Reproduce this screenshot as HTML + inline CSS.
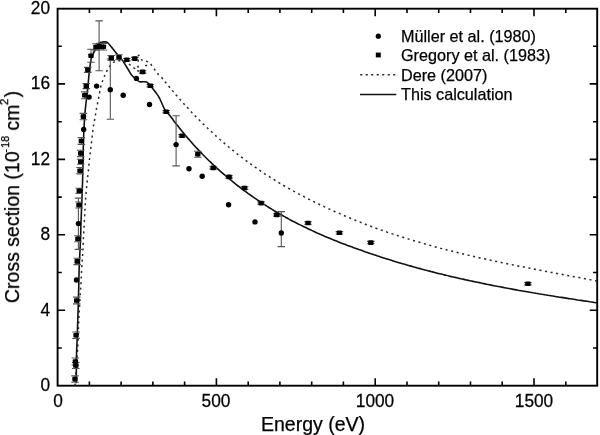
<!DOCTYPE html>
<html><head><meta charset="utf-8"><style>
html,body{margin:0;padding:0;background:#fff;}
body{width:600px;height:435px;overflow:hidden;position:relative;-webkit-font-smoothing:antialiased;font-family:"Liberation Sans",sans-serif;color:#000;}
svg{position:absolute;left:0;top:0;}
.t{position:absolute;white-space:nowrap;line-height:1;will-change:transform;-webkit-text-stroke:0.25px #000;}
.yl{text-align:right;width:40px;font-size:17.3px;transform:scaleY(1.08);}
.xl{font-size:17.3px;text-align:center;width:60px;transform:scaleY(1.08);}
.lg{font-size:16.2px;left:400.8px;}
.ax{font-size:19.5px;}
.sp{font-size:10.8px;position:relative;top:-10.6px;}
</style></head><body>
<svg width="600" height="435" viewBox="0 0 600 435">
<rect x="57.6" y="8.7" width="539.6" height="377" fill="none" stroke="#000" stroke-width="1.9"/>
<path d="M89.4,385.7v-4.2 M89.4,8.7v4.2 M121.1,385.7v-4.2 M121.1,8.7v4.2 M152.9,385.7v-4.2 M152.9,8.7v4.2 M184.6,385.7v-4.2 M184.6,8.7v4.2 M216.4,385.7v-7.5 M216.4,8.7v7.5 M248.2,385.7v-4.2 M248.2,8.7v4.2 M279.9,385.7v-4.2 M279.9,8.7v4.2 M311.7,385.7v-4.2 M311.7,8.7v4.2 M343.4,385.7v-4.2 M343.4,8.7v4.2 M375.2,385.7v-7.5 M375.2,8.7v7.5 M407,385.7v-4.2 M407,8.7v4.2 M438.7,385.7v-4.2 M438.7,8.7v4.2 M470.5,385.7v-4.2 M470.5,8.7v4.2 M502.2,385.7v-4.2 M502.2,8.7v4.2 M534,385.7v-7.5 M534,8.7v7.5 M565.8,385.7v-4.2 M565.8,8.7v4.2 M57.6,348h4.2 M597.2,348h-4.2 M57.6,310.3h7.5 M597.2,310.3h-7.5 M57.6,272.5h4.2 M597.2,272.5h-4.2 M57.6,234.8h7.5 M597.2,234.8h-7.5 M57.6,197.1h4.2 M597.2,197.1h-4.2 M57.6,159.4h7.5 M597.2,159.4h-7.5 M57.6,121.7h4.2 M597.2,121.7h-4.2 M57.6,83.9h7.5 M597.2,83.9h-7.5 M57.6,46.2h4.2 M597.2,46.2h-4.2" stroke="#000" stroke-width="1.6" fill="none"/>
<path d="M75,385.7 C75.2,383.4 75.7,376.3 76,372 C76.3,367.7 76.6,363.3 76.8,360 C77,356.7 77.2,354.8 77.4,352 C77.6,349.2 77.8,347.2 78,343 C78.2,338.8 78.3,331.5 78.5,327 C78.7,322.5 78.8,319.7 79,316 C79.2,312.3 79.4,309.1 79.6,305 C79.8,300.9 80.2,295.3 80.4,291.4 C80.7,287.5 80.9,284.9 81.1,281.7 C81.3,278.5 81.3,275.4 81.5,272 C81.7,268.6 82,264.4 82.2,261 C82.4,257.6 82.7,254.9 82.9,251.4 C83.1,247.9 83.1,244.4 83.3,240.2 C83.5,236 83.8,231 84.1,226.4 C84.3,221.8 84.6,217 84.8,212.6 C85,208.2 85.2,205 85.5,200.2 C85.8,195.4 86.4,188.8 86.9,184 C87.4,179.2 87.8,175.8 88.3,171.4 C88.8,167 89.2,161.7 89.7,157.6 C90.2,153.5 90.5,150.5 91,146.6 C91.5,142.7 92,137.8 92.4,134.1 C92.9,130.3 93.3,126.7 93.7,124.1 C94.1,121.5 94.6,120.2 94.9,118.3 C95.2,116.4 95.5,114.3 95.8,112.6 C96.1,110.9 96.3,109.7 96.6,108 C96.9,106.3 97.4,104.1 97.8,102.2 C98.2,100.3 98.4,99 98.9,96.5 C99.4,94 99.9,90.1 100.6,87.3 C101.3,84.5 102.2,81.7 103,79.5 C103.8,77.3 104.4,76.1 105.3,74.3 C106.2,72.5 107,70.4 108.2,68.6 C109.4,66.8 110.9,64.6 112.2,63.4 C113.5,62.2 114.7,61.6 116,61.2 C117.3,60.8 118.6,60.7 120,60.8 C121.4,60.9 123.1,61.3 124.5,61.8 C125.9,62.3 127,62.7 128.5,63.7 C130,64.7 132.2,67 133.7,67.8 C135.2,68.6 136.8,69.8 137.6,68.5 C138.3,67.2 138,62.2 138.2,60 C138.4,57.8 138,55.2 138.7,55.3 C139.4,55.4 141,59.4 142.3,60.4 C143.7,61.4 145.5,60.9 146.8,61.4 C148.1,61.9 148.9,62.2 150.1,63.4 C151.3,64.6 152.6,66.8 153.8,68.5 C155.1,70.2 156.2,71.9 157.6,73.5 C159,75.1 160.8,76.6 162.1,78 C163.3,79.4 164.1,80.5 165.1,81.8 C166.1,83 167.1,84.2 168.1,85.4 C169.1,86.7 170.1,87.9 171.1,89.1 C172.1,90.3 173.1,91.5 174.1,92.6 C175.1,93.8 176.1,95 177.1,96.1 C178.1,97.3 179.1,98.4 180.1,99.6 C181.1,100.7 182.1,101.8 183.1,102.9 C184.1,104 185.1,105.1 186.1,106.2 C187.1,107.3 188.1,108.4 189.1,109.5 C190.1,110.6 191.1,111.6 192.1,112.7 C193.1,113.7 194.1,114.8 195.1,115.8 C196.1,116.8 197.1,117.8 198.1,118.9 C199.1,119.9 200.1,120.9 201.1,121.9 C202.1,122.9 203.1,123.8 204.1,124.8 C205.1,125.8 206.1,126.8 207.1,127.7 C208.1,128.7 209.1,129.6 210.1,130.6 C211.1,131.5 212.1,132.4 213.1,133.3 C214.1,134.3 215.1,135.2 216.1,136.1 C217.1,137 218.1,137.9 219.1,138.8 C220.1,139.6 221.1,140.5 222.1,141.4 C223.1,142.2 224.1,143.1 225.1,144 C226.1,144.8 227.1,145.7 228.1,146.5 C229.1,147.3 230.1,148.2 231.1,149 C232.1,149.8 233.1,150.6 234.1,151.4 C235.1,152.2 236.1,153 237.1,153.8 C238.1,154.6 239.1,155.4 240.1,156.1 C241.1,156.9 242.1,157.7 243.1,158.4 C244.1,159.2 245.1,159.9 246.1,160.7 C247.1,161.4 248.1,162.1 249.1,162.9 C250.1,163.6 251.1,164.3 252.1,165 C253.1,165.8 254.1,166.5 255.1,167.2 C256.1,167.9 257.1,168.6 258.1,169.2 C259.1,169.9 260.1,170.6 261.1,171.3 C262.1,172 263.1,172.6 264.1,173.3 C265.1,174 266.1,174.6 267.1,175.3 C268.1,175.9 269.1,176.6 270.1,177.2 C271.1,177.8 272.1,178.5 273.1,179.1 C274.1,179.7 275.1,180.3 276.1,180.9 C277.1,181.6 278.1,182.2 279.1,182.8 C280.1,183.4 281.1,184 282.1,184.6 C283.1,185.1 284.1,185.7 285.1,186.3 C286.1,186.9 287.1,187.5 288.1,188 C289.1,188.6 290.1,189.2 291.1,189.7 C292.1,190.3 293.1,190.9 294.1,191.4 C295.1,192 296.1,192.5 297.1,193 C298.1,193.6 299.1,194.1 300.1,194.7 C301.1,195.2 302.1,195.7 303.1,196.2 C304.1,196.8 305.1,197.3 306.1,197.8 C307.1,198.3 308.1,198.8 309.1,199.3 C310.1,199.8 311.1,200.3 312.1,200.8 C313.1,201.3 314.1,201.8 315.1,202.3 C316.1,202.8 317.1,203.3 318.1,203.8 C319.1,204.3 320.1,204.7 321.1,205.2 C322.1,205.7 323.1,206.2 324.1,206.6 C325.1,207.1 326.1,207.6 327.1,208 C328.1,208.5 329.1,209 330.1,209.4 C331.1,209.9 332.1,210.3 333.1,210.8 C334.1,211.2 335.1,211.7 336.1,212.1 C337.1,212.6 338.1,213 339.1,213.4 C340.1,213.9 341.1,214.3 342.1,214.7 C343.1,215.2 344.1,215.6 345.1,216 C346.1,216.4 347.1,216.9 348.1,217.3 C349.1,217.7 350.1,218.1 351.1,218.5 C352.1,218.9 353.1,219.3 354.1,219.8 C355.1,220.2 356.1,220.6 357.1,221 C358.1,221.4 359.1,221.8 360.1,222.1 C361.1,222.5 362.1,222.9 363.1,223.3 C364.1,223.7 365.1,224.1 366.1,224.5 C367.1,224.9 368.1,225.2 369.1,225.6 C370.1,226 371.1,226.4 372.1,226.7 C373.1,227.1 374.1,227.5 375.1,227.8 C376.1,228.2 377.1,228.6 378.1,228.9 C379.1,229.3 380.1,229.6 381.1,230 C382.1,230.3 383.1,230.7 384.1,231 C385.1,231.4 386.1,231.7 387.1,232.1 C388.1,232.4 389.1,232.8 390.1,233.1 C391.1,233.4 392.1,233.8 393.1,234.1 C394.1,234.4 395.1,234.8 396.1,235.1 C397.1,235.4 398.1,235.8 399.1,236.1 C400.1,236.4 401.1,236.7 402.1,237 C403.1,237.4 404.1,237.7 405.1,238 C406.1,238.3 407.1,238.6 408.1,238.9 C409.1,239.2 410.1,239.6 411.1,239.9 C412.1,240.2 413.1,240.5 414.1,240.8 C415.1,241.1 416.1,241.4 417.1,241.7 C418.1,242 419.1,242.3 420.1,242.5 C421.1,242.8 422.1,243.1 423.1,243.4 C424.1,243.7 425.1,244 426.1,244.3 C427.1,244.6 428.1,244.8 429.1,245.1 C430.1,245.4 431.1,245.7 432.1,246 C433.1,246.2 434.1,246.5 435.1,246.8 C436.1,247.1 437.1,247.3 438.1,247.6 C439.1,247.9 440.1,248.1 441.1,248.4 C442.1,248.7 443.1,248.9 444.1,249.2 C445.1,249.4 446.1,249.7 447.1,250 C448.1,250.2 449.1,250.5 450.1,250.7 C451.1,251 452.1,251.2 453.1,251.5 C454.1,251.7 455.1,252 456.1,252.2 C457.1,252.5 458.1,252.7 459.1,253 C460.1,253.2 461.1,253.5 462.1,253.7 C463.1,253.9 464.1,254.2 465.1,254.4 C466.1,254.7 467.1,254.9 468.1,255.1 C469.1,255.4 470.1,255.6 471.1,255.8 C472.1,256.1 473.1,256.3 474.1,256.5 C475.1,256.8 476.1,257 477.1,257.2 C478.1,257.5 479.1,257.7 480.1,257.9 C481.1,258.1 482.1,258.4 483.1,258.6 C484.1,258.8 485.1,259 486.1,259.2 C487.1,259.5 488.1,259.7 489.1,259.9 C490.1,260.1 491.1,260.3 492.1,260.6 C493.1,260.8 494.1,261 495.1,261.2 C496.1,261.4 497.1,261.6 498.1,261.8 C499.1,262 500.1,262.3 501.1,262.5 C502.1,262.7 503.1,262.9 504.1,263.1 C505.1,263.3 506.1,263.5 507.1,263.7 C508.1,263.9 509.1,264.1 510.1,264.3 C511.1,264.5 512.1,264.7 513.1,264.9 C514.1,265.1 515.1,265.3 516.1,265.5 C517.1,265.8 518.1,266 519.1,266.2 C520.1,266.4 521.1,266.6 522.1,266.7 C523.1,266.9 524.1,267.1 525.1,267.3 C526.1,267.5 527.1,267.7 528.1,267.9 C529.1,268.1 530.1,268.3 531.1,268.5 C532.1,268.7 533.1,268.9 534.1,269.1 C535.1,269.3 536.1,269.5 537.1,269.7 C538.1,269.9 539.1,270.1 540.1,270.3 C541.1,270.5 542.1,270.6 543.1,270.8 C544.1,271 545.1,271.2 546.1,271.4 C547.1,271.6 548.1,271.8 549.1,272 C550.1,272.2 551.1,272.4 552.1,272.5 C553.1,272.7 554.1,272.9 555.1,273.1 C556.1,273.3 557.1,273.5 558.1,273.7 C559.1,273.9 560.1,274.1 561.1,274.2 C562.1,274.4 563.1,274.6 564.1,274.8 C565.1,275 566.1,275.2 567.1,275.4 C568.1,275.6 569.1,275.8 570.1,275.9 C571.1,276.1 572.1,276.3 573.1,276.5 C574.1,276.7 575.1,276.9 576.1,277.1 C577.1,277.3 578.1,277.4 579.1,277.6 C580.1,277.8 581.1,278 582.1,278.2 C583.1,278.4 584.1,278.6 585.1,278.8 C586.1,279 587.1,279.1 588.1,279.3 C589.1,279.5 590.1,279.7 591.1,279.9 C592.1,280.1 593.1,280.3 594.1,280.5 C595.1,280.7 596.6,281 597.1,281.1 C597.6,281.2 597.2,281.1 597.2,281.1" stroke="#2a2a2a" stroke-width="1.5" fill="none" stroke-dasharray="2.1 3.55" />
<path d="M76.3,383.2 C76.3,382.3 76.3,379.9 76.3,378 C76.3,376.1 76.3,375.8 76.3,372 C76.3,368.2 76.4,360.3 76.5,355 C76.6,349.7 76.9,345 77.1,340 C77.3,335 77.4,330 77.6,325 C77.8,320 78,314.2 78.1,310 C78.2,305.8 78.3,304.2 78.4,300 C78.5,295.8 78.7,290.5 78.8,285 C78.9,279.5 79,272.8 79.2,267 C79.4,261.2 79.8,254.5 80,250 C80.2,245.5 80.3,244.2 80.5,240 C80.7,235.8 80.8,229.7 80.9,225 C81.1,220.3 81.2,217 81.4,212 C81.6,207 81.9,200.3 82.1,195 C82.3,189.7 82.4,185.8 82.6,180 C82.8,174.2 82.9,166.7 83.1,160 C83.2,153.3 83.3,145.3 83.5,140 C83.7,134.7 83.8,132.3 84,128 C84.2,123.7 84.6,118.2 84.9,114 C85.2,109.8 85.6,106.5 86,103 C86.4,99.5 86.8,96.5 87.2,93 C87.6,89.5 87.9,85.8 88.3,82 C88.7,78.2 89,73.7 89.5,70 C90,66.3 90.4,62.7 91,60 C91.6,57.3 92.2,55.8 93,54 C93.8,52.2 94.8,50.7 95.5,49.2 C96.2,47.7 96.9,46.2 97.5,45.2 C98.1,44.2 98.5,43.5 99.3,43 C100,42.5 101.1,42.4 102,42.2 C102.9,42 103.6,41.8 104.5,41.9 C105.4,42 106.6,42.1 107.5,42.7 C108.4,43.3 109.1,44.2 110,45.3 C110.9,46.3 111.8,47.6 113,49 C114.2,50.4 115.7,52.4 116.9,53.8 C118.1,55.2 119,56.2 120,57.5 C121,58.8 121.8,59.5 123.1,61.4 C124.4,63.3 126.4,66.6 127.9,69 C129.4,71.4 130.6,73.9 132,75.6 C133.4,77.3 134.9,78.3 136.2,79.3 C137.5,80.3 138,81.3 139.7,81.8 C141.4,82.2 144.7,81.2 146.6,82 C148.5,82.8 149.5,84.8 151,86.5 C152.5,88.2 154.1,90 155.5,92 C156.9,94 158.1,95.5 159.7,98.5 C161.2,101.5 163.1,106.8 164.8,109.7 C166.5,112.6 168.6,114 170,115.7 C171.4,117.4 172,118.4 173,119.7 C174,121.1 175,122.4 176,123.7 C177,125 178,126.2 179,127.5 C180,128.8 181,130 182,131.2 C183,132.4 184,133.7 185,134.9 C186,136 187,137.2 188,138.4 C189,139.5 190,140.7 191,141.8 C192,143 193,144.1 194,145.2 C195,146.3 196,147.4 197,148.4 C198,149.5 199,150.6 200,151.6 C201,152.7 202,153.7 203,154.7 C204,155.7 205,156.8 206,157.7 C207,158.7 208,159.7 209,160.7 C210,161.7 211,162.6 212,163.6 C213,164.5 214,165.5 215,166.4 C216,167.3 217,168.2 218,169.1 C219,170 220,170.9 221,171.8 C222,172.7 223,173.5 224,174.4 C225,175.3 226,176.1 227,177 C228,177.8 229,178.6 230,179.4 C231,180.3 232,181.1 233,181.9 C234,182.7 235,183.5 236,184.3 C237,185.1 238,185.9 239,186.6 C240,187.4 241,188.2 242,188.9 C243,189.7 244,190.4 245,191.2 C246,191.9 247,192.6 248,193.4 C249,194.1 250,194.8 251,195.5 C252,196.2 253,196.9 254,197.6 C255,198.3 256,199 257,199.7 C258,200.4 259,201 260,201.7 C261,202.4 262,203 263,203.7 C264,204.3 265,205 266,205.6 C267,206.3 268,206.9 269,207.5 C270,208.1 271,208.8 272,209.4 C273,210 274,210.6 275,211.2 C276,211.8 277,212.4 278,212.9 C279,213.5 280,214.1 281,214.7 C282,215.3 283,215.8 284,216.4 C285,216.9 286,217.5 287,218 C288,218.6 289,219.1 290,219.7 C291,220.2 292,220.7 293,221.3 C294,221.8 295,222.3 296,222.8 C297,223.3 298,223.8 299,224.4 C300,224.9 301,225.4 302,225.8 C303,226.3 304,226.8 305,227.3 C306,227.8 307,228.3 308,228.7 C309,229.2 310,229.7 311,230.1 C312,230.6 313,231.1 314,231.5 C315,232 316,232.4 317,232.9 C318,233.3 319,233.8 320,234.2 C321,234.6 322,235.1 323,235.5 C324,235.9 325,236.4 326,236.8 C327,237.2 328,237.6 329,238 C330,238.5 331,238.9 332,239.3 C333,239.7 334,240.1 335,240.5 C336,240.9 337,241.3 338,241.7 C339,242.1 340,242.5 341,242.9 C342,243.2 343,243.6 344,244 C345,244.4 346,244.8 347,245.2 C348,245.5 349,245.9 350,246.3 C351,246.7 352,247 353,247.4 C354,247.8 355,248.1 356,248.5 C357,248.9 358,249.2 359,249.6 C360,249.9 361,250.3 362,250.6 C363,251 364,251.3 365,251.7 C366,252 367,252.4 368,252.7 C369,253.1 370,253.4 371,253.8 C372,254.1 373,254.4 374,254.8 C375,255.1 376,255.4 377,255.8 C378,256.1 379,256.4 380,256.7 C381,257.1 382,257.4 383,257.7 C384,258 385,258.4 386,258.7 C387,259 388,259.3 389,259.6 C390,259.9 391,260.2 392,260.5 C393,260.9 394,261.2 395,261.5 C396,261.8 397,262.1 398,262.4 C399,262.7 400,263 401,263.3 C402,263.6 403,263.8 404,264.1 C405,264.4 406,264.7 407,265 C408,265.3 409,265.6 410,265.9 C411,266.1 412,266.4 413,266.7 C414,267 415,267.3 416,267.5 C417,267.8 418,268.1 419,268.4 C420,268.6 421,268.9 422,269.2 C423,269.4 424,269.7 425,270 C426,270.2 427,270.5 428,270.8 C429,271 430,271.3 431,271.5 C432,271.8 433,272 434,272.3 C435,272.6 436,272.8 437,273.1 C438,273.3 439,273.6 440,273.8 C441,274.1 442,274.3 443,274.5 C444,274.8 445,275 446,275.3 C447,275.5 448,275.7 449,276 C450,276.2 451,276.5 452,276.7 C453,276.9 454,277.2 455,277.4 C456,277.6 457,277.8 458,278.1 C459,278.3 460,278.5 461,278.8 C462,279 463,279.2 464,279.4 C465,279.6 466,279.9 467,280.1 C468,280.3 469,280.5 470,280.7 C471,281 472,281.2 473,281.4 C474,281.6 475,281.8 476,282 C477,282.2 478,282.4 479,282.6 C480,282.9 481,283.1 482,283.3 C483,283.5 484,283.7 485,283.9 C486,284.1 487,284.3 488,284.5 C489,284.7 490,284.9 491,285.1 C492,285.3 493,285.5 494,285.7 C495,285.9 496,286.1 497,286.3 C498,286.4 499,286.6 500,286.8 C501,287 502,287.2 503,287.4 C504,287.6 505,287.8 506,288 C507,288.2 508,288.3 509,288.5 C510,288.7 511,288.9 512,289.1 C513,289.3 514,289.4 515,289.6 C516,289.8 517,290 518,290.2 C519,290.3 520,290.5 521,290.7 C522,290.9 523,291 524,291.2 C525,291.4 526,291.6 527,291.7 C528,291.9 529,292.1 530,292.3 C531,292.4 532,292.6 533,292.8 C534,292.9 535,293.1 536,293.3 C537,293.4 538,293.6 539,293.8 C540,293.9 541,294.1 542,294.3 C543,294.4 544,294.6 545,294.8 C546,294.9 547,295.1 548,295.3 C549,295.4 550,295.6 551,295.7 C552,295.9 553,296.1 554,296.2 C555,296.4 556,296.5 557,296.7 C558,296.9 559,297 560,297.2 C561,297.3 562,297.5 563,297.6 C564,297.8 565,298 566,298.1 C567,298.3 568,298.4 569,298.6 C570,298.7 571,298.9 572,299 C573,299.2 574,299.4 575,299.5 C576,299.7 577,299.8 578,300 C579,300.1 580,300.3 581,300.4 C582,300.6 583,300.7 584,300.9 C585,301 586,301.2 587,301.3 C588,301.5 589,301.6 590,301.8 C591,301.9 592,302.1 593,302.2 C594,302.4 595.3,302.6 596,302.7 C596.7,302.8 597,302.8 597.2,302.8" stroke="#111" stroke-width="1.6" fill="none" stroke-linejoin="round"/>
<path d="M145.1,65.5h2.1M137.1,70.6l1.9,0.6" stroke="#2a2a2a" stroke-width="1.5" fill="none"/>
<path d="M78.4,198.1V249.4 M74.7,198.1h7.4 M74.7,249.4h7.4 M99.1,20.9V70.7 M95.4,20.9h7.4 M95.4,70.7h7.4 M110.3,59V119.2 M106.6,59h7.4 M106.6,119.2h7.4 M176.1,115.8V165.9 M172.4,115.8h7.4 M172.4,165.9h7.4 M281.3,211.6V246.6 M277.6,211.6h7.4 M277.6,246.6h7.4 M75,375.9V382.3 M71.2,375.9h7.6 M71.2,382.3h7.6 M75.4,358V365 M71.6,358h7.6 M71.6,365h7.6 M75.8,362.5V368.5 M72,362.5h7.6 M72,368.5h7.6 M76.1,332V338.4 M72.3,332h7.6 M72.3,338.4h7.6 M76.7,297.1V303.9 M72.9,297.1h7.6 M72.9,303.9h7.6 M77.2,258.2V264.6 M73.4,258.2h7.6 M73.4,264.6h7.6 M77.9,235.8V241.8 M74.1,235.8h7.6 M74.1,241.8h7.6 M79,202V208 M75.2,202h7.6 M75.2,208h7.6 M79.3,188.2V193.4 M75.5,188.2h7.6 M75.5,193.4h7.6 M80,167.5V173.9 M76.2,167.5h7.6 M76.2,173.9h7.6 M80.7,159.2V164.2 M76.9,159.2h7.6 M76.9,164.2h7.6 M80.7,150.2V156.6 M76.9,150.2h7.6 M76.9,156.6h7.6 M81.4,137.6V144.4 M77.6,137.6h7.6 M77.6,144.4h7.6 M83.4,113.4V119.8 M79.6,113.4h7.6 M79.6,119.8h7.6 M84.8,91.9V98.7 M81,91.9h7.6 M81,98.7h7.6 M86.3,83.6V88.6 M82.5,83.6h7.6 M82.5,88.6h7.6 M87.8,67.4V72.4 M84,67.4h7.6 M84,72.4h7.6 M91,49.2V62.2 M87.2,49.2h7.6 M87.2,62.2h7.6 M96,43.7V50.3 M92.2,43.7h7.6 M92.2,50.3h7.6 M99.6,43.2V49.8 M95.8,43.2h7.6 M95.8,49.8h7.6 M103.4,43.4V50 M99.6,43.4h7.6 M99.6,50h7.6 M111.3,55.5V60.5 M107.5,55.5h7.6 M107.5,60.5h7.6 M119,54.7V59.7 M115.2,54.7h7.6 M115.2,59.7h7.6 M123,58.5h7.6 M123,60.9h7.6 M131,57.4h7.6 M131,59.8h7.6 M138.8,70.7h7.6 M138.8,73.1h7.6 M146.5,84.5h7.6 M146.5,86.9h7.6 M162.4,110.5h7.6 M162.4,112.9h7.6 M178.3,134.6h7.6 M178.3,137h7.6 M197.8,151.2V157.2 M194,151.2h7.6 M194,157.2h7.6 M209.4,166.7h7.6 M209.4,169.1h7.6 M225.3,175.7h7.6 M225.3,178.1h7.6 M240.8,186.8h7.6 M240.8,189.2h7.6 M257.3,201.9h7.6 M257.3,204.3h7.6 M273,213.7h7.6 M273,216.1h7.6 M304.2,221.8h7.6 M304.2,224.2h7.6 M335.6,231.6h7.6 M335.6,234h7.6 M367,241.4h7.6 M367,243.8h7.6 M524.1,282.5h7.6 M524.1,284.9h7.6" stroke="#555" stroke-width="1.1" fill="none"/>
<circle cx="76.5" cy="280" r="2.7"/>
<circle cx="78.4" cy="223.6" r="2.7"/>
<circle cx="83.7" cy="129.5" r="2.7"/>
<circle cx="89.1" cy="97.1" r="2.7"/>
<circle cx="96.6" cy="86.1" r="2.7"/>
<circle cx="99.1" cy="46.2" r="2.7"/>
<circle cx="110.3" cy="89.7" r="2.7"/>
<circle cx="123.2" cy="95.3" r="2.7"/>
<circle cx="136.4" cy="78.4" r="2.7"/>
<circle cx="149.5" cy="104.5" r="2.7"/>
<circle cx="176.1" cy="144.6" r="2.7"/>
<circle cx="189" cy="168.8" r="2.7"/>
<circle cx="202.2" cy="176.3" r="2.7"/>
<circle cx="228.6" cy="204.7" r="2.7"/>
<circle cx="255" cy="221.9" r="2.7"/>
<circle cx="281.3" cy="233" r="2.7"/>
<rect x="72.3" y="376.8" width="5.4" height="4.6" rx="0.9"/>
<rect x="72.7" y="359.2" width="5.4" height="4.6" rx="0.9"/>
<rect x="73.1" y="363.2" width="5.4" height="4.6" rx="0.9"/>
<rect x="73.4" y="332.9" width="5.4" height="4.6" rx="0.9"/>
<rect x="74" y="298.2" width="5.4" height="4.6" rx="0.9"/>
<rect x="74.5" y="259.1" width="5.4" height="4.6" rx="0.9"/>
<rect x="75.2" y="236.5" width="5.4" height="4.6" rx="0.9"/>
<rect x="76.3" y="202.7" width="5.4" height="4.6" rx="0.9"/>
<rect x="76.6" y="188.5" width="5.4" height="4.6" rx="0.9"/>
<rect x="77.3" y="168.4" width="5.4" height="4.6" rx="0.9"/>
<rect x="78" y="159.4" width="5.4" height="4.6" rx="0.9"/>
<rect x="78" y="151.1" width="5.4" height="4.6" rx="0.9"/>
<rect x="78.7" y="138.7" width="5.4" height="4.6" rx="0.9"/>
<rect x="80.7" y="114.3" width="5.4" height="4.6" rx="0.9"/>
<rect x="82.1" y="93" width="5.4" height="4.6" rx="0.9"/>
<rect x="83.6" y="83.8" width="5.4" height="4.6" rx="0.9"/>
<rect x="85.1" y="67.6" width="5.4" height="4.6" rx="0.9"/>
<rect x="88.3" y="53.4" width="5.4" height="4.6" rx="0.9"/>
<rect x="93.3" y="44.7" width="5.4" height="4.6" rx="0.9"/>
<rect x="96.9" y="44.2" width="5.4" height="4.6" rx="0.9"/>
<rect x="100.7" y="44.4" width="5.4" height="4.6" rx="0.9"/>
<rect x="108.6" y="55.7" width="5.4" height="4.6" rx="0.9"/>
<rect x="116.3" y="54.9" width="5.4" height="4.6" rx="0.9"/>
<rect x="124.1" y="57.4" width="5.4" height="4.6" rx="0.9"/>
<rect x="132.1" y="56.3" width="5.4" height="4.6" rx="0.9"/>
<rect x="139.9" y="69.6" width="5.4" height="4.6" rx="0.9"/>
<rect x="147.6" y="83.4" width="5.4" height="4.6" rx="0.9"/>
<rect x="163.5" y="109.4" width="5.4" height="4.6" rx="0.9"/>
<rect x="179.4" y="133.5" width="5.4" height="4.6" rx="0.9"/>
<rect x="195.1" y="151.9" width="5.4" height="4.6" rx="0.9"/>
<rect x="210.5" y="165.6" width="5.4" height="4.6" rx="0.9"/>
<rect x="226.4" y="174.6" width="5.4" height="4.6" rx="0.9"/>
<rect x="241.9" y="185.7" width="5.4" height="4.6" rx="0.9"/>
<rect x="258.4" y="200.8" width="5.4" height="4.6" rx="0.9"/>
<rect x="274.1" y="212.6" width="5.4" height="4.6" rx="0.9"/>
<rect x="305.3" y="220.7" width="5.4" height="4.6" rx="0.9"/>
<rect x="336.7" y="230.5" width="5.4" height="4.6" rx="0.9"/>
<rect x="368.1" y="240.3" width="5.4" height="4.6" rx="0.9"/>
<rect x="525.2" y="281.4" width="5.4" height="4.6" rx="0.9"/>
<circle cx="378.3" cy="36.2" r="2.6"/>
<rect x="375.8" y="52.6" width="5" height="4.8"/>
<path d="M360.2,74.7H396" stroke="#2a2a2a" stroke-width="1.5" stroke-dasharray="2.1 3.4"/>
<path d="M360,94.5H396.3" stroke="#111" stroke-width="1.6"/>
</svg>
<div class="t yl" style="left:9.6px;top:376.9px">0</div>
<div class="t yl" style="left:9.6px;top:301.5px">4</div>
<div class="t yl" style="left:9.6px;top:226.1px">8</div>
<div class="t yl" style="left:9.6px;top:150.6px">12</div>
<div class="t yl" style="left:9.6px;top:75.2px">16</div>
<div class="t yl" style="left:9.6px;top:-0.3px">20</div>
<div class="t xl" style="left:27.6px;top:392.9px">0</div>
<div class="t xl" style="left:186.4px;top:392.9px">500</div>
<div class="t xl" style="left:345.2px;top:392.9px">1000</div>
<div class="t xl" style="left:504px;top:392.9px">1500</div>
<div class="t lg" style="top:27.7px">Müller et al. (1980)</div>
<div class="t lg" style="top:47.3px">Gregory et al. (1983)</div>
<div class="t lg" style="top:66.8px">Dere (2007)</div>
<div class="t lg" style="top:86.2px">This calculation</div>
<div class="t ax" style="left:261px;top:414.5px">Energy (eV)</div>
<div class="t ax" style="font-size:19.5px;left:0;top:0;transform-origin:0 0;transform:translate(3.0px,303.15px) rotate(-90deg)">Cross section (10<span class="sp" style="margin-left:-1.2px;margin-right:-0.2px;top:-10.4px">-<span style="margin-left:1.1px">18</span></span> cm<span class="sp" style="margin-left:-0.6px;font-size:11.8px;top:-10.6px">2</span><span style="margin-left:1.4px">)</span></div>
</body></html>
